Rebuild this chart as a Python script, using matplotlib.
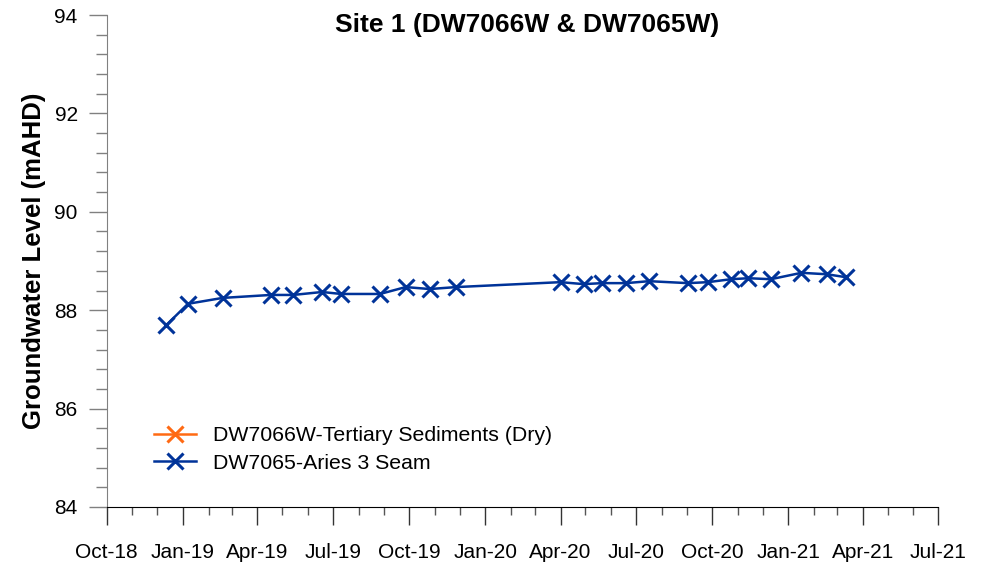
import pandas as pd
import numpy as np
import matplotlib
matplotlib.use('Agg')
import matplotlib.pyplot as plt
import matplotlib.dates as mdates

plt.rcParams['font.family'] = ['Liberation Sans', 'DejaVu Sans']

# DW7065 - Aries 3 Seam
dates_dw7065 = ['2018-12-12', '2019-01-07', '2019-02-18', '2019-04-17', '2019-05-14',
                '2019-06-18', '2019-07-11', '2019-08-27', '2019-09-27', '2019-10-26',
                '2019-11-27', '2020-04-01', '2020-04-29', '2020-05-21', '2020-06-19',
                '2020-07-17', '2020-09-02', '2020-09-26', '2020-10-24', '2020-11-14',
                '2020-12-11', '2021-01-17', '2021-02-17', '2021-03-12']
level_dw7065 = [87.70, 88.13, 88.25, 88.31, 88.31,
                88.37, 88.33, 88.33, 88.47, 88.43,
                88.47, 88.57, 88.53, 88.55, 88.55,
                88.59, 88.55, 88.57, 88.63, 88.65,
                88.63, 88.76, 88.73, 88.67]

# DW7066W - Tertiary Sediments (dry, no readings)
dates_dw7066w = []
level_dw7066w = []

x_start = '2018-10-01'
x_end = '2021-07-01'

fig = plt.figure(figsize=(9.89, 5.73), dpi=100)
ax = fig.add_axes([0.108, 0.1152, 0.8405, 0.8586])

ax.plot(pd.to_datetime(dates_dw7066w), level_dw7066w, color='#FF6A13', marker='x',
        markersize=11, markeredgewidth=2.2, linewidth=1.8,
        label='DW7066W-Tertiary Sediments (Dry)')
ax.plot(pd.to_datetime(dates_dw7065), level_dw7065, color='#003399', marker='x',
        markersize=11, markeredgewidth=2.2, linewidth=1.8,
        label='DW7065-Aries 3 Seam')

ax.set_xlim(pd.Timestamp(x_start), pd.Timestamp(x_end))
ax.set_ylim(84, 94)

ax.xaxis.set_major_locator(mdates.MonthLocator(bymonth=[1, 4, 7, 10]))
ax.xaxis.set_minor_locator(mdates.MonthLocator())
ax.xaxis.set_major_formatter(mdates.DateFormatter('%b-%y'))
ax.set_yticks(np.arange(84, 95, 2))
ax.set_yticks(np.arange(84, 94.01, 0.4), minor=True)

for s in ['top', 'right']:
    ax.spines[s].set_visible(False)
ax.spines['left'].set_color('#808080')
ax.spines['bottom'].set_color('black')

ax.tick_params(axis='x', which='major', direction='out', length=13, width=1,
               color='#333333', labelsize=15, pad=13)
ax.tick_params(axis='x', which='minor', direction='out', length=6, width=1,
               color='#555555')
ax.tick_params(axis='y', which='major', direction='out', length=13, width=1,
               color='#808080', labelsize=15, pad=8)
ax.tick_params(axis='y', which='minor', direction='out', length=8, width=1,
               color='#808080')

ax.set_ylabel('Groundwater Level (mAHD)', fontsize=18.5, fontweight='bold', labelpad=6)
fig.text(0.533, 0.956, 'Site 1 (DW7066W & DW7065W)', fontsize=19, fontweight='bold',
         ha='center', va='center')

ax.legend(loc='lower left', bbox_to_anchor=(0.046, 0.052), frameon=False,
          fontsize=15.3, handlelength=2.0, handletextpad=0.8, labelspacing=0.42,
          borderaxespad=0)

fig.savefig('out.png', dpi=100)
